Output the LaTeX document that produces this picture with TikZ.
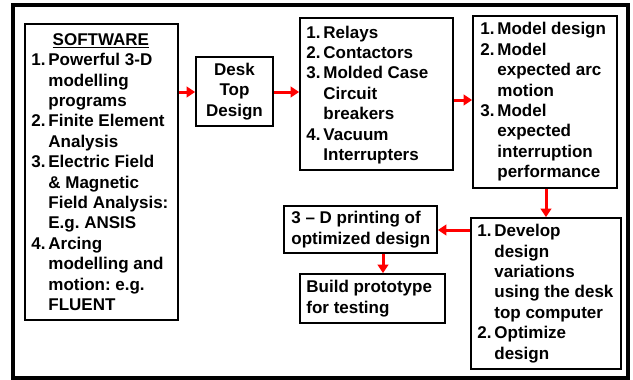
\documentclass[tikz,border=0pt]{standalone}
\usepackage{fontspec}
\setmainfont{Liberation Sans}
\usetikzlibrary{arrows.meta}
\newcommand\nb[1]{\makebox[17pt][l]{#1}}
\newcommand\ind{\hspace*{17pt}}
\frenchspacing
\begin{document}
\begin{tikzpicture}[x=1pt,y=-1pt,
  box/.style={draw,line width=1.6pt,inner sep=0pt},
  txt/.style={align=left,inner sep=0pt,anchor=west,font=\fontsize{17}{20.4}\selectfont\bfseries\frenchspacing},
  ctxt/.style={align=center,inner sep=0pt,font=\fontsize{17}{20.4}\selectfont\bfseries},
  arr/.style={red,line width=3pt,-{Triangle[length=8.5pt,width=10.5pt]}}]
\useasboundingbox (0,0) rectangle (633,380);
\draw[line width=3.2pt] (13,5) rectangle (628,378);
% boxes
\node[box,minimum width=153pt,minimum height=296pt] (sw) at (101.5,172) {};
\node[box,minimum width=77pt,minimum height=69pt] (desk) at (234.5,91.5) {};
\node[box,minimum width=153pt,minimum height=152pt] (rel) at (376.5,94) {};
\node[box,minimum width=144pt,minimum height=172pt] (mod) at (545,102) {};
\node[box,minimum width=150pt,minimum height=151pt] (dev) at (546,293.5) {};
\node[box,minimum width=153pt,minimum height=47pt] (prn) at (360.5,229.5) {};
\node[box,minimum width=145pt,minimum height=49pt] (bld) at (372.5,298.5) {};
% texts
\node[txt] (swt) at ([xshift=7pt]sw.west) {\makebox[139pt][c]{\underline{SOFTWARE}}\\
\nb{1.}Powerful 3-D\\ \ind modelling\\ \ind programs\\
\nb{2.}Finite Element\\ \ind Analysis\\
\nb{3.}Electric Field\\ \ind \& Magnetic\\ \ind Field Analysis:\\ \ind E.g. ANSIS\\
\nb{4.}Arcing\\ \ind modelling and\\ \ind motion: e.g.\\ \ind FLUENT};
\node[ctxt] (deskt) at (desk) {Desk\\Top\\Design};
\node[txt] (relt) at ([xshift=7pt,yshift=-1pt]rel.west) {\nb{1.}Relays\\ \nb{2.}Contactors\\ \nb{3.}Molded Case\\ \ind Circuit\\ \ind breakers\\ \nb{4.}Vacuum\\ \ind Interrupters};
\node[txt] (modt) at ([xshift=8pt]mod.west) {\nb{1.}Model design\\ \nb{2.}Model\\ \ind expected arc\\ \ind motion\\ \nb{3.}Model\\ \ind expected\\ \ind interruption\\ \ind performance};
\node[txt] (devt) at ([xshift=7pt]dev.west) {\nb{1.}Develop\\ \ind design\\ \ind variations\\ \ind using the desk\\ \ind top computer\\ \nb{2.}Optimize\\ \ind design};
\node[txt] (prnt) at ([xshift=8pt]prn.west) {3 – D printing of\\optimized design};
\node[txt] (bldt) at ([xshift=7pt]bld.west) {Build prototype\\for testing};
% arrows
\coordinate (ya) at (0,92);
\coordinate (yb) at (0,100);
\coordinate (yc) at (0,230);
\coordinate (xa) at (383,0);
\draw[arr] (sw.east |- ya) -- (desk.west |- ya);
\draw[arr] (desk.east |- ya) -- (rel.west |- ya);
\draw[arr] (rel.east |- yb) -- (mod.west |- yb);
\draw[arr] (mod.south -| dev.north) -- (dev.north);
\draw[arr] (dev.west |- yc) -- (prn.east |- yc);
\draw[arr] (prn.south -| xa) -- (bld.north -| xa);
\end{tikzpicture}
\end{document}
